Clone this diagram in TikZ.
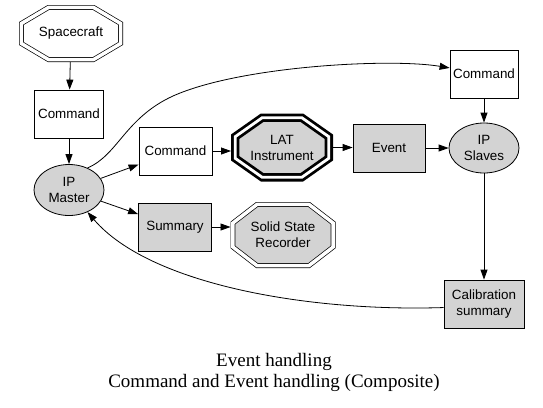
\documentclass[tikz,border=0pt]{standalone}
\usepackage{fontspec}
\setmainfont{Liberation Serif}
\setsansfont{Liberation Sans}
\usepackage{xcolor}
\usetikzlibrary{arrows.meta,shapes.geometric,backgrounds,calc}
\definecolor{boxgray}{RGB}{211,211,211}

% octagon round a node: node, x chamfer, y chamfer, inset
\newcommand\octpath[4]{($(#1.north west)+({#4+#2},#4)$) -- ($(#1.north east)+({-#4-#2},#4)$)
  -- ($(#1.north east)+(-#4,{#4+#3})$) -- ($(#1.south east)+(-#4,{-#4-#3})$)
  -- ($(#1.south east)+({-#4-#2},-#4)$) -- ($(#1.south west)+({#4+#2},-#4)$)
  -- ($(#1.south west)+(#4,{-#4-#3})$) -- ($(#1.north west)+(#4,{#4+#3})$) -- cycle}

\begin{document}
\begin{tikzpicture}[x=1pt,y=-1pt,
    every node/.style={font=\sffamily\fontsize{13.4}{16}\selectfont, align=center, inner sep=0pt, line width=0.8pt},
    cmdbox/.style={draw, rectangle, minimum width=#1, minimum height=48pt},
    cmdbox/.default=72pt,
    oval/.style={draw, ellipse, fill=boxgray, minimum width=70pt, minimum height=51pt},
    octnode/.style={rectangle, outer sep=0pt},
    octline/.style={draw, double=white, double distance=3.5pt, line width=0.7pt},
    flow/.style={line width=0.8pt, -{Triangle[length=10pt,width=7pt]}}]
  \useasboundingbox (0,0) rectangle (543,407);

  % left column
  \node[octnode, minimum width=104pt, minimum height=57pt] (craft) at (71,33.5) {Spacecraft};
  \node[cmdbox=69pt] (cmd1) at (69,114) {Command};
  \node[oval] (master) at (69,190) {IP\\Master};

  % middle rows
  \node[cmdbox=73pt] (cmd2) at (175.5,151) {Command};
  \node[octnode, minimum width=102pt, minimum height=68pt] (lat) at (282,147.5) {LAT\\Instrument};
  \node[cmdbox, fill=boxgray] (event) at (389,148) {Event};
  \node[cmdbox=73pt, fill=boxgray] (summary) at (175,227) {Summary};
  \node[octnode, minimum width=105pt, minimum height=66pt] (ssr) at (283,235) {Solid State\\Recorder};

  % right column
  \node[cmdbox=68pt] (cmd3) at (484,74) {Command};
  \node[oval, minimum height=50pt] (slaves) at (484,148) {IP\\Slaves};
  \node[cmdbox=80pt, fill=boxgray] (calib) at (484,304) {Calibration\\summary};

  \begin{scope}[on background layer]
    \draw[octline] \octpath{craft}{27}{16}{2.45};
    \draw[octline, fill=boxgray, line width=2.8pt, double distance=2.8pt] \octpath{lat}{27}{19}{4.2};
    \draw[octline, fill=boxgray] \octpath{ssr}{24}{18.5}{2.45};
  \end{scope}

  \draw[flow] (craft) -- (cmd1);
  \draw[flow] (cmd1) -- (master);
  \draw[flow] (master) -- (cmd2);
  \draw[flow] (master) -- (summary);
  \draw[flow] (master.50) .. controls (118,155) and (125,118) .. (173,96) .. controls (240,66) and (390,58) .. (cmd3.170);
  \draw[flow] (cmd2.east) -- (cmd2.east -| lat.west);
  \draw[flow] (lat.east) -- (lat.east -| event.west);
  \draw[flow] (event) -- (slaves);
  \draw[flow] (cmd3) -- (slaves);
  \draw[flow] (slaves) -- (calib);
  \draw[flow] (summary.east) -- (summary.east -| ssr.west);
  \draw[flow] (calib.185) .. controls (310,312) and (150,285) .. (master.-50);

  \node[font=\rmfamily\fontsize{19}{21}\selectfont] (caption) at (274,372) {Event handling\\Command and Event handling (Composite)};
\end{tikzpicture}
\end{document}
